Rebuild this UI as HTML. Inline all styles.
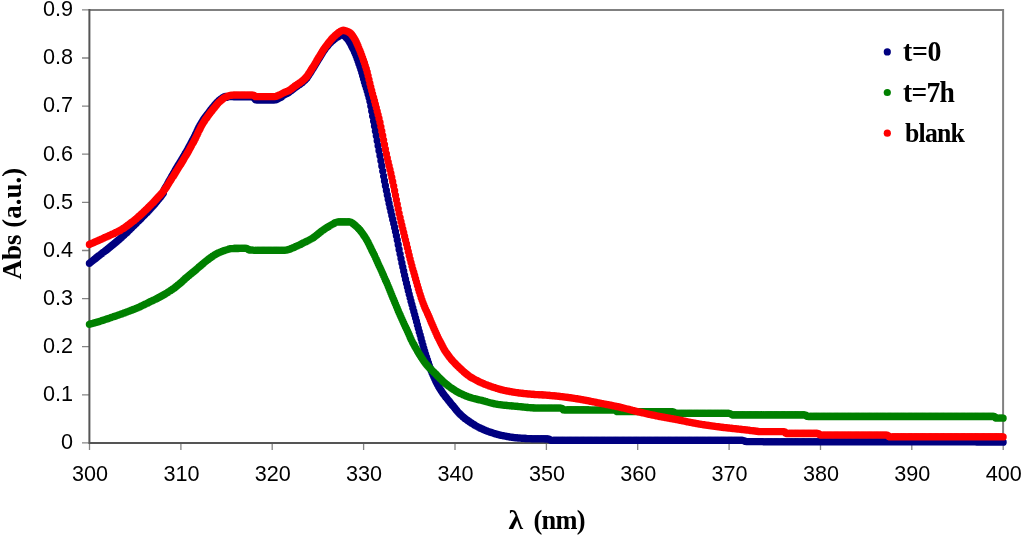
<!DOCTYPE html>
<html><head><meta charset="utf-8"><title>Abs vs wavelength</title>
<style>
html,body{margin:0;padding:0;background:#fff}
svg{display:block}
.tk{font-family:"Liberation Sans",sans-serif;font-size:22.5px;fill:#000}
.ti{font-family:"Liberation Serif",serif;font-weight:bold;font-size:30px;fill:#000}
</style></head><body>
<svg width="1024" height="537" viewBox="0 0 1024 537">
<rect width="1024" height="537" fill="#fff"/>
<path d="M89.4 10H1003.1V443" fill="none" stroke="#808080" stroke-width="2"/>
<path d="M82 442.9H89M82 394.8H89M82 346.7H89M82 298.6H89M82 250.5H89M82 202.3H89M82 154.2H89M82 106.1H89M82 58.0H89M82 9.9H89M89.5 443V450M180.9 443V450M272.2 443V450M363.6 443V450M455.0 443V450M546.4 443V450M637.7 443V450M729.1 443V450M820.5 443V450M911.8 443V450M1003.2 443V450" fill="none" stroke="#858585" stroke-width="1.3"/>
<path d="M89.4 9V443H1003.1" fill="none" stroke="#555" stroke-width="2"/>
<path d="M89.4 263.3h.01M90.3 262.6h.01M91.2 261.8h.01M92.1 261.1h.01M93.1 260.3h.01M94.0 259.6h.01M94.9 258.9h.01M95.8 258.2h.01M96.7 257.4h.01M97.6 256.7h.01M98.5 256.0h.01M99.5 255.3h.01M100.4 254.6h.01M101.3 253.9h.01M102.2 253.2h.01M103.1 252.5h.01M104.0 251.8h.01M104.9 251.1h.01M105.8 250.4h.01M106.8 249.7h.01M107.7 248.9h.01M108.6 248.2h.01M109.5 247.5h.01M110.4 246.7h.01M111.3 246.0h.01M112.2 245.2h.01M113.2 244.5h.01M114.1 243.7h.01M115.0 243.0h.01M115.9 242.2h.01M116.8 241.4h.01M117.7 240.6h.01M118.6 239.9h.01M119.6 239.1h.01M120.5 238.3h.01M121.4 237.4h.01M122.3 236.6h.01M123.2 235.8h.01M124.1 235.0h.01M125.0 234.1h.01M125.9 233.3h.01M126.9 232.4h.01M127.8 231.5h.01M128.7 230.6h.01M129.6 229.7h.01M130.5 228.8h.01M131.4 227.9h.01M132.3 227.0h.01M133.3 226.1h.01M134.2 225.2h.01M135.1 224.3h.01M136.0 223.4h.01M136.9 222.5h.01M137.8 221.6h.01M138.7 220.7h.01M139.7 219.8h.01M140.6 218.9h.01M141.5 218.0h.01M142.4 217.0h.01M143.3 216.1h.01M144.2 215.2h.01M145.1 214.3h.01M146.0 213.3h.01M147.0 212.4h.01M147.9 211.4h.01M148.8 210.4h.01M149.7 209.5h.01M150.6 208.5h.01M151.5 207.5h.01M152.4 206.5h.01M153.4 205.5h.01M154.3 204.4h.01M155.2 203.4h.01M156.1 202.3h.01M157.0 201.2h.01M157.9 200.1h.01M158.8 199.0h.01M159.8 197.8h.01M160.7 196.7h.01M161.6 195.4h.01M162.5 194.2h.01M163.4 193.0h.01M164.3 189.6h.01M165.2 188.0h.01M166.2 186.5h.01M167.1 184.8h.01M168.0 183.2h.01M168.9 181.5h.01M169.8 179.9h.01M170.7 178.3h.01M171.6 176.7h.01M172.5 175.1h.01M173.5 173.4h.01M174.4 171.8h.01M175.3 170.2h.01M176.2 168.6h.01M177.1 167.2h.01M178.0 165.7h.01M178.9 164.2h.01M179.9 162.7h.01M180.8 161.2h.01M181.7 159.7h.01M182.6 158.2h.01M183.5 156.7h.01M184.4 155.1h.01M185.3 153.5h.01M186.3 151.9h.01M187.2 150.3h.01M188.1 148.7h.01M189.0 147.0h.01M189.9 145.4h.01M190.8 143.7h.01M191.7 142.0h.01M192.6 140.2h.01M193.6 138.5h.01M194.5 136.7h.01M195.4 134.7h.01M196.3 132.8h.01M197.2 130.8h.01M198.1 128.9h.01M199.0 127.1h.01M200.0 125.4h.01M200.9 123.8h.01M201.8 122.3h.01M202.7 120.9h.01M203.6 119.5h.01M204.5 118.2h.01M205.4 116.9h.01M206.4 115.7h.01M207.3 114.5h.01M208.2 113.3h.01M209.1 112.1h.01M210.0 110.9h.01M210.9 109.7h.01M211.8 108.6h.01M212.7 107.4h.01M213.7 106.3h.01M214.6 105.2h.01M215.5 104.1h.01M216.4 103.1h.01M217.3 102.2h.01M218.2 101.3h.01M219.1 100.5h.01M220.1 99.7h.01M221.0 99.0h.01M221.9 98.3h.01M222.8 97.7h.01M223.7 97.1h.01M224.6 96.7h.01M225.5 96.3h.01M226.5 97.4h.01M227.4 97.1h.01M228.3 96.8h.01M229.2 96.6h.01M230.1 96.5h.01M231.0 96.5h.01M231.9 96.6h.01M232.9 96.7h.01M233.8 96.8h.01M234.7 96.9h.01M235.6 96.9h.01M236.5 96.9h.01M237.4 96.9h.01M238.3 96.9h.01M239.2 96.9h.01M240.2 96.9h.01M241.1 96.9h.01M242.0 96.9h.01M242.9 96.9h.01M243.8 96.9h.01M244.7 96.9h.01M245.6 96.9h.01M246.6 96.9h.01M247.5 96.9h.01M248.4 96.9h.01M249.3 96.9h.01M250.2 96.9h.01M251.1 96.9h.01M252.0 96.9h.01M253.0 96.9h.01M253.9 97.7h.01M254.8 98.8h.01M255.7 99.8h.01M256.6 100.0h.01M257.5 100.0h.01M258.4 100.0h.01M259.3 100.0h.01M260.3 100.0h.01M261.2 100.0h.01M262.1 100.0h.01M263.0 100.0h.01M263.9 100.0h.01M264.8 100.0h.01M265.7 100.0h.01M266.7 100.0h.01M267.6 100.0h.01M268.5 100.0h.01M269.4 100.0h.01M270.3 100.0h.01M271.2 100.0h.01M272.1 100.0h.01M273.1 100.0h.01M274.0 100.0h.01M274.9 99.9h.01M275.8 99.7h.01M276.7 99.4h.01M277.6 99.0h.01M278.5 98.6h.01M279.4 98.0h.01M280.4 97.5h.01M281.3 96.9h.01M282.2 96.2h.01M283.1 95.6h.01M284.0 95.0h.01M284.9 94.5h.01M285.8 94.0h.01M286.8 93.5h.01M287.7 92.9h.01M288.6 92.4h.01M289.5 91.8h.01M290.4 91.1h.01M291.3 90.4h.01M292.2 89.7h.01M293.2 89.0h.01M294.1 88.3h.01M295.0 87.5h.01M295.9 86.9h.01M296.8 86.3h.01M297.7 85.7h.01M298.6 85.1h.01M299.6 84.5h.01M300.5 83.8h.01M301.4 83.1h.01M302.3 82.4h.01M303.2 81.6h.01M304.1 80.8h.01M305.0 79.9h.01M305.9 79.0h.01M306.9 77.9h.01M307.8 76.6h.01M308.7 75.2h.01M309.6 73.8h.01M310.5 72.4h.01M311.4 71.0h.01M312.3 69.5h.01M313.3 68.1h.01M314.2 66.6h.01M315.1 65.1h.01M316.0 63.6h.01M316.9 62.0h.01M317.8 60.5h.01M318.7 59.0h.01M319.7 57.5h.01M320.6 56.0h.01M321.5 54.4h.01M322.4 53.0h.01M323.3 51.5h.01M324.2 50.2h.01M325.1 48.9h.01M326.0 47.6h.01M327.0 46.5h.01M327.9 45.4h.01M328.8 44.3h.01M329.7 43.3h.01M330.6 42.4h.01M331.5 41.5h.01M332.4 40.7h.01M333.4 39.9h.01M334.3 39.1h.01M335.2 38.4h.01M336.1 37.8h.01M337.0 37.3h.01M337.9 36.7h.01M338.8 36.2h.01M339.8 35.6h.01M340.7 35.1h.01M341.6 34.8h.01M342.5 34.5h.01M343.4 35.0h.01M344.3 35.7h.01M345.2 36.5h.01M346.1 37.4h.01M347.1 38.4h.01M348.0 39.5h.01M348.9 40.9h.01M349.8 42.4h.01M350.7 44.1h.01M351.6 45.9h.01M352.5 47.7h.01M353.5 49.6h.01M354.4 51.7h.01M355.3 53.8h.01M356.2 56.1h.01M357.1 58.5h.01M358.0 61.1h.01M358.9 63.7h.01M359.9 66.4h.01M360.8 69.3h.01M361.7 72.3h.01M362.6 75.5h.01M363.5 78.7h.01M364.4 82.0h.01M365.3 85.1h.01M366.3 88.1h.01M367.2 91.1h.01M368.1 94.2h.01M369.0 97.5h.01M369.9 101.3h.01M370.8 105.9h.01M371.7 110.9h.01M372.6 116.0h.01M373.6 121.0h.01M374.5 125.9h.01M375.4 130.9h.01M376.3 135.8h.01M377.2 140.8h.01M378.1 145.8h.01M379.0 150.7h.01M380.0 155.7h.01M380.9 160.8h.01M381.8 165.9h.01M382.7 171.1h.01M383.6 176.1h.01M384.5 181.0h.01M385.4 185.7h.01M386.4 190.4h.01M387.3 194.9h.01M388.2 199.3h.01M389.1 203.5h.01M390.0 207.6h.01M390.9 211.5h.01M391.8 215.4h.01M392.7 219.4h.01M393.7 223.4h.01M394.6 227.5h.01M395.5 231.6h.01M396.4 235.8h.01M397.3 240.1h.01M398.2 244.7h.01M399.1 249.4h.01M400.1 254.1h.01M401.0 258.6h.01M401.9 262.9h.01M402.8 267.1h.01M403.7 271.2h.01M404.6 275.3h.01M405.5 279.2h.01M406.5 283.2h.01M407.4 287.0h.01M408.3 290.7h.01M409.2 294.3h.01M410.1 297.8h.01M411.0 301.2h.01M411.9 304.6h.01M412.8 308.0h.01M413.8 311.4h.01M414.7 314.8h.01M415.6 318.1h.01M416.5 321.5h.01M417.4 324.9h.01M418.3 328.3h.01M419.2 331.7h.01M420.2 335.1h.01M421.1 338.4h.01M422.0 341.8h.01M422.9 345.1h.01M423.8 348.3h.01M424.7 351.4h.01M425.6 354.4h.01M426.6 357.4h.01M427.5 360.2h.01M428.4 362.9h.01M429.3 365.6h.01M430.2 368.1h.01M431.1 370.5h.01M432.0 372.8h.01M433.0 375.0h.01M433.9 377.1h.01M434.8 379.1h.01M435.7 381.0h.01M436.6 382.8h.01M437.5 384.5h.01M438.4 386.2h.01M439.3 387.7h.01M440.3 389.3h.01M441.2 390.7h.01M442.1 392.1h.01M443.0 393.4h.01M443.9 394.6h.01M444.8 395.8h.01M445.7 397.0h.01M446.7 398.1h.01M447.6 399.3h.01M448.5 400.4h.01M449.4 401.5h.01M450.3 402.7h.01M451.2 403.8h.01M452.1 404.9h.01M453.1 406.0h.01M454.0 407.1h.01M454.9 408.2h.01M455.8 409.4h.01M456.7 410.5h.01M457.6 411.6h.01M458.5 412.6h.01M459.4 413.5h.01M460.4 414.4h.01M461.3 415.3h.01M462.2 416.1h.01M463.1 416.9h.01M464.0 417.6h.01M464.9 418.4h.01M465.8 419.1h.01M466.8 419.8h.01M467.7 420.4h.01M468.6 421.1h.01M469.5 421.7h.01M470.4 422.3h.01M471.3 423.0h.01M472.2 423.6h.01M473.2 424.1h.01M474.1 424.7h.01M475.0 425.3h.01M475.9 425.8h.01M476.8 426.3h.01M477.7 426.8h.01M478.6 427.3h.01M479.5 427.7h.01M480.5 428.2h.01M481.4 428.6h.01M482.3 429.0h.01M483.2 429.4h.01M484.1 429.8h.01M485.0 430.2h.01M485.9 430.6h.01M486.9 430.9h.01M487.8 431.3h.01M488.7 431.6h.01M489.6 431.9h.01M490.5 432.2h.01M491.4 432.5h.01M492.3 432.8h.01M493.3 433.1h.01M494.2 433.4h.01M495.1 433.7h.01M496.0 434.0h.01M496.9 434.2h.01M497.8 434.5h.01M498.7 434.7h.01M499.7 434.9h.01M500.6 435.2h.01M501.5 435.4h.01M502.4 435.6h.01M503.3 435.7h.01M504.2 435.9h.01M505.1 436.1h.01M506.0 436.3h.01M507.0 436.5h.01M507.9 436.6h.01M508.8 436.8h.01M509.7 437.0h.01M510.6 437.1h.01M511.5 437.3h.01M512.4 437.4h.01M513.4 437.5h.01M514.3 437.7h.01M515.2 437.8h.01M516.1 437.9h.01M517.0 437.9h.01M517.9 438.0h.01M518.8 438.1h.01M519.8 438.1h.01M520.7 438.2h.01M521.6 438.3h.01M522.5 438.3h.01M523.4 438.4h.01M524.3 438.4h.01M525.2 438.5h.01M526.1 438.5h.01M527.1 438.6h.01M528.0 438.6h.01M528.9 438.7h.01M529.8 438.7h.01M530.7 438.7h.01M531.6 438.8h.01M532.5 438.8h.01M533.5 438.8h.01M534.4 438.8h.01M535.3 438.9h.01M536.2 438.9h.01M537.1 438.9h.01M538.0 438.9h.01M538.9 438.9h.01M539.9 438.9h.01M540.8 438.9h.01M541.7 438.9h.01M542.6 438.9h.01M543.5 438.9h.01M544.4 438.9h.01M545.3 439.0h.01M546.2 439.0h.01M547.2 439.0h.01M548.1 439.0h.01M549.0 439.1h.01M549.9 439.8h.01M550.8 440.3h.01M551.7 440.3h.01M552.6 440.3h.01M553.6 440.3h.01M554.5 440.3h.01M555.4 440.3h.01M556.3 440.3h.01M557.2 440.3h.01M558.1 440.3h.01M559.0 440.3h.01M560.0 440.3h.01M560.9 440.3h.01M561.8 440.3h.01M562.7 440.3h.01M563.6 440.3h.01M564.5 440.3h.01M565.4 440.3h.01M566.4 440.3h.01M567.3 440.3h.01M568.2 440.3h.01M569.1 440.3h.01M570.0 440.3h.01M570.9 440.3h.01M571.8 440.3h.01M572.7 440.3h.01M573.7 440.3h.01M574.6 440.3h.01M575.5 440.3h.01M576.4 440.3h.01M577.3 440.3h.01M578.2 440.3h.01M579.1 440.3h.01M580.1 440.3h.01M581.0 440.3h.01M581.9 440.3h.01M582.8 440.3h.01M583.7 440.3h.01M584.6 440.3h.01M585.5 440.3h.01M586.5 440.3h.01M587.4 440.3h.01M588.3 440.3h.01M589.2 440.3h.01M590.1 440.3h.01M591.0 440.3h.01M591.9 440.3h.01M592.8 440.3h.01M593.8 440.3h.01M594.7 440.3h.01M595.6 440.3h.01M596.5 440.3h.01M597.4 440.3h.01M598.3 440.3h.01M599.2 440.3h.01M600.2 440.3h.01M601.1 440.3h.01M602.0 440.3h.01M602.9 440.3h.01M603.8 440.3h.01M604.7 440.3h.01M605.6 440.3h.01M606.6 440.3h.01M607.5 440.3h.01M608.4 440.3h.01M609.3 440.3h.01M610.2 440.3h.01M611.1 440.3h.01M612.0 440.3h.01M613.0 440.3h.01M613.9 440.3h.01M614.8 440.3h.01M615.7 440.3h.01M616.6 440.3h.01M617.5 440.3h.01M618.4 440.3h.01M619.3 440.3h.01M620.3 440.3h.01M621.2 440.3h.01M622.1 440.3h.01M623.0 440.3h.01M623.9 440.3h.01M624.8 440.3h.01M625.7 440.3h.01M626.7 440.3h.01M627.6 440.3h.01M628.5 440.3h.01M629.4 440.3h.01M630.3 440.3h.01M631.2 440.3h.01M632.1 440.3h.01M633.1 440.3h.01M634.0 440.3h.01M634.9 440.3h.01M635.8 440.3h.01M636.7 440.3h.01M637.6 440.3h.01M638.5 440.3h.01M639.4 440.3h.01M640.4 440.3h.01M641.3 440.3h.01M642.2 440.3h.01M643.1 440.3h.01M644.0 440.3h.01M644.9 440.3h.01M645.8 440.3h.01M646.8 440.3h.01M647.7 440.3h.01M648.6 440.3h.01M649.5 440.3h.01M650.4 440.3h.01M651.3 440.3h.01M652.2 440.3h.01M653.2 440.3h.01M654.1 440.3h.01M655.0 440.3h.01M655.9 440.3h.01M656.8 440.3h.01M657.7 440.3h.01M658.6 440.3h.01M659.5 440.3h.01M660.5 440.3h.01M661.4 440.3h.01M662.3 440.3h.01M663.2 440.3h.01M664.1 440.3h.01M665.0 440.3h.01M665.9 440.3h.01M666.9 440.3h.01M667.8 440.3h.01M668.7 440.3h.01M669.6 440.3h.01M670.5 440.3h.01M671.4 440.3h.01M672.3 440.3h.01M673.3 440.3h.01M674.2 440.3h.01M675.1 440.3h.01M676.0 440.3h.01M676.9 440.3h.01M677.8 440.3h.01M678.7 440.3h.01M679.7 440.3h.01M680.6 440.3h.01M681.5 440.3h.01M682.4 440.3h.01M683.3 440.3h.01M684.2 440.3h.01M685.1 440.3h.01M686.0 440.3h.01M687.0 440.3h.01M687.9 440.3h.01M688.8 440.3h.01M689.7 440.3h.01M690.6 440.3h.01M691.5 440.3h.01M692.4 440.3h.01M693.4 440.3h.01M694.3 440.3h.01M695.2 440.3h.01M696.1 440.3h.01M697.0 440.3h.01M697.9 440.3h.01M698.8 440.3h.01M699.8 440.3h.01M700.7 440.3h.01M701.6 440.3h.01M702.5 440.3h.01M703.4 440.3h.01M704.3 440.3h.01M705.2 440.3h.01M706.1 440.3h.01M707.1 440.3h.01M708.0 440.3h.01M708.9 440.3h.01M709.8 440.3h.01M710.7 440.3h.01M711.6 440.3h.01M712.5 440.3h.01M713.5 440.3h.01M714.4 440.3h.01M715.3 440.3h.01M716.2 440.3h.01M717.1 440.3h.01M718.0 440.3h.01M718.9 440.3h.01M719.9 440.3h.01M720.8 440.3h.01M721.7 440.3h.01M722.6 440.3h.01M723.5 440.3h.01M724.4 440.3h.01M725.3 440.3h.01M726.2 440.3h.01M727.2 440.3h.01M728.1 440.3h.01M729.0 440.3h.01M729.9 440.3h.01M730.8 440.3h.01M731.7 440.3h.01M732.6 440.3h.01M733.6 440.3h.01M734.5 440.3h.01M735.4 440.3h.01M736.3 440.3h.01M737.2 440.3h.01M738.1 440.3h.01M739.0 440.3h.01M740.0 440.3h.01M740.9 440.3h.01M741.8 440.3h.01M742.7 440.4h.01M743.6 440.6h.01M744.5 441.0h.01M745.4 441.4h.01M746.4 441.6h.01M747.3 441.7h.01M748.2 441.7h.01M749.1 441.7h.01M750.0 441.7h.01M750.9 441.7h.01M751.8 441.7h.01M752.7 441.7h.01M753.7 441.7h.01M754.6 441.7h.01M755.5 441.7h.01M756.4 441.7h.01M757.3 441.7h.01M758.2 441.7h.01M759.1 441.7h.01M760.1 441.7h.01M761.0 441.7h.01M761.9 441.7h.01M762.8 441.7h.01M763.7 441.8h.01M764.6 441.8h.01M765.5 441.8h.01M766.5 441.8h.01M767.4 441.8h.01M768.3 441.8h.01M769.2 441.8h.01M770.1 441.8h.01M771.0 441.8h.01M771.9 441.8h.01M772.8 441.8h.01M773.8 441.8h.01M774.7 441.8h.01M775.6 441.8h.01M776.5 441.8h.01M777.4 441.8h.01M778.3 441.8h.01M779.2 441.8h.01M780.2 441.8h.01M781.1 441.8h.01M782.0 441.8h.01M782.9 441.8h.01M783.8 441.8h.01M784.7 441.8h.01M785.6 441.8h.01M786.6 441.8h.01M787.5 441.8h.01M788.4 441.8h.01M789.3 441.8h.01M790.2 441.8h.01M791.1 441.8h.01M792.0 441.8h.01M792.9 441.8h.01M793.9 441.8h.01M794.8 441.8h.01M795.7 441.8h.01M796.6 441.8h.01M797.5 441.8h.01M798.4 441.8h.01M799.3 441.8h.01M800.3 441.8h.01M801.2 441.8h.01M802.1 441.8h.01M803.0 441.8h.01M803.9 441.8h.01M804.8 441.8h.01M805.7 441.8h.01M806.7 441.8h.01M807.6 441.8h.01M808.5 441.8h.01M809.4 441.8h.01M810.3 441.8h.01M811.2 441.8h.01M812.1 441.8h.01M813.1 441.8h.01M814.0 441.8h.01M814.9 441.8h.01M815.8 441.8h.01M816.7 441.8h.01M817.6 441.8h.01M818.5 441.8h.01M819.4 441.8h.01M820.4 441.8h.01M821.3 441.8h.01M822.2 441.8h.01M823.1 441.8h.01M824.0 441.8h.01M824.9 441.8h.01M825.8 441.8h.01M826.8 441.8h.01M827.7 441.8h.01M828.6 441.8h.01M829.5 441.8h.01M830.4 441.8h.01M831.3 441.9h.01M832.2 441.9h.01M833.2 441.9h.01M834.1 441.9h.01M835.0 441.9h.01M835.9 441.9h.01M836.8 441.9h.01M837.7 441.9h.01M838.6 441.9h.01M839.5 441.9h.01M840.5 441.9h.01M841.4 441.9h.01M842.3 441.9h.01M843.2 441.9h.01M844.1 441.9h.01M845.0 441.9h.01M845.9 441.9h.01M846.9 441.9h.01M847.8 441.9h.01M848.7 441.9h.01M849.6 441.9h.01M850.5 441.9h.01M851.4 441.9h.01M852.3 441.9h.01M853.3 441.9h.01M854.2 441.9h.01M855.1 441.9h.01M856.0 441.9h.01M856.9 441.9h.01M857.8 441.9h.01M858.7 441.9h.01M859.6 441.9h.01M860.6 441.9h.01M861.5 441.9h.01M862.4 441.9h.01M863.3 441.9h.01M864.2 441.9h.01M865.1 441.9h.01M866.0 441.9h.01M867.0 441.9h.01M867.9 441.9h.01M868.8 441.9h.01M869.7 441.9h.01M870.6 441.9h.01M871.5 441.9h.01M872.4 441.9h.01M873.4 441.9h.01M874.3 441.9h.01M875.2 441.9h.01M876.1 441.9h.01M877.0 441.9h.01M877.9 441.9h.01M878.8 441.9h.01M879.8 441.9h.01M880.7 441.9h.01M881.6 441.9h.01M882.5 441.9h.01M883.4 441.9h.01M884.3 441.9h.01M885.2 441.9h.01M886.1 441.9h.01M887.1 441.9h.01M888.0 441.9h.01M888.9 441.9h.01M889.8 441.9h.01M890.7 441.9h.01M891.6 441.9h.01M892.5 441.9h.01M893.5 441.9h.01M894.4 441.9h.01M895.3 441.9h.01M896.2 441.9h.01M897.1 441.9h.01M898.0 441.9h.01M898.9 441.9h.01M899.9 441.9h.01M900.8 441.9h.01M901.7 441.9h.01M902.6 441.9h.01M903.5 441.9h.01M904.4 441.9h.01M905.3 441.9h.01M906.2 441.9h.01M907.2 441.9h.01M908.1 441.9h.01M909.0 441.9h.01M909.9 441.9h.01M910.8 441.9h.01M911.7 441.9h.01M912.6 441.9h.01M913.6 441.9h.01M914.5 441.9h.01M915.4 441.9h.01M916.3 441.9h.01M917.2 441.9h.01M918.1 441.9h.01M919.0 441.9h.01M920.0 441.9h.01M920.9 441.9h.01M921.8 441.9h.01M922.7 441.9h.01M923.6 441.9h.01M924.5 441.9h.01M925.4 441.9h.01M926.3 441.9h.01M927.3 441.9h.01M928.2 441.9h.01M929.1 441.9h.01M930.0 441.9h.01M930.9 441.9h.01M931.8 441.9h.01M932.7 441.9h.01M933.7 441.9h.01M934.6 441.9h.01M935.5 441.9h.01M936.4 441.9h.01M937.3 441.9h.01M938.2 441.9h.01M939.1 441.9h.01M940.1 441.9h.01M941.0 441.9h.01M941.9 441.9h.01M942.8 441.9h.01M943.7 441.9h.01M944.6 441.9h.01M945.5 441.9h.01M946.5 441.9h.01M947.4 441.9h.01M948.3 441.9h.01M949.2 441.9h.01M950.1 441.9h.01M951.0 441.9h.01M951.9 441.9h.01M952.8 441.9h.01M953.8 441.9h.01M954.7 441.9h.01M955.6 441.9h.01M956.5 441.9h.01M957.4 441.9h.01M958.3 441.9h.01M959.2 441.9h.01M960.2 441.9h.01M961.1 441.9h.01M962.0 441.9h.01M962.9 441.9h.01M963.8 441.9h.01M964.7 441.9h.01M965.6 441.9h.01M966.6 441.9h.01M967.5 441.9h.01M968.4 441.9h.01M969.3 441.9h.01M970.2 441.9h.01M971.1 441.9h.01M972.0 441.9h.01M972.9 441.9h.01M973.9 441.9h.01M974.8 441.9h.01M975.7 441.9h.01M976.6 442.0h.01M977.5 442.0h.01M978.4 442.0h.01M979.3 442.0h.01M980.3 442.0h.01M981.2 442.0h.01M982.1 442.0h.01M983.0 442.0h.01M983.9 442.0h.01M984.8 442.0h.01M985.7 442.0h.01M986.7 442.0h.01M987.6 442.0h.01M988.5 442.0h.01M989.4 442.0h.01M990.3 442.0h.01M991.2 442.0h.01M992.1 442.0h.01M993.0 442.0h.01M994.0 442.0h.01M994.9 442.0h.01M995.8 442.0h.01M996.7 442.0h.01M997.6 442.1h.01M998.5 442.1h.01M999.4 442.1h.01M1000.4 442.1h.01M1001.3 442.2h.01M1002.2 442.2h.01M1003.1 442.2h.01" fill="none" stroke="#000080" stroke-width="7.3" stroke-linecap="round"/>
<path d="M89.4 324.3h.01M90.3 324.0h.01M91.2 323.8h.01M92.1 323.5h.01M93.1 323.3h.01M94.0 323.0h.01M94.9 322.7h.01M95.8 322.5h.01M96.7 322.2h.01M97.6 321.9h.01M98.5 321.7h.01M99.5 321.4h.01M100.4 321.1h.01M101.3 320.8h.01M102.2 320.5h.01M103.1 320.2h.01M104.0 319.9h.01M104.9 319.6h.01M105.8 319.3h.01M106.8 319.0h.01M107.7 318.7h.01M108.6 318.4h.01M109.5 318.1h.01M110.4 317.8h.01M111.3 317.5h.01M112.2 317.1h.01M113.2 316.8h.01M114.1 316.5h.01M115.0 316.2h.01M115.9 315.9h.01M116.8 315.6h.01M117.7 315.3h.01M118.6 315.0h.01M119.6 314.6h.01M120.5 314.3h.01M121.4 314.0h.01M122.3 313.7h.01M123.2 313.3h.01M124.1 313.0h.01M125.0 312.7h.01M125.9 312.3h.01M126.9 312.0h.01M127.8 311.6h.01M128.7 311.3h.01M129.6 311.0h.01M130.5 310.6h.01M131.4 310.2h.01M132.3 309.9h.01M133.3 309.5h.01M134.2 309.2h.01M135.1 308.8h.01M136.0 308.4h.01M136.9 308.1h.01M137.8 307.7h.01M138.7 307.3h.01M139.7 306.9h.01M140.6 306.5h.01M141.5 306.0h.01M142.4 305.6h.01M143.3 305.1h.01M144.2 304.7h.01M145.1 304.2h.01M146.0 303.8h.01M147.0 303.3h.01M147.9 302.9h.01M148.8 302.4h.01M149.7 302.0h.01M150.6 301.5h.01M151.5 301.1h.01M152.4 300.7h.01M153.4 300.2h.01M154.3 299.8h.01M155.2 299.3h.01M156.1 298.9h.01M157.0 298.4h.01M157.9 297.9h.01M158.8 297.4h.01M159.8 296.9h.01M160.7 296.4h.01M161.6 295.9h.01M162.5 295.4h.01M163.4 294.9h.01M164.3 294.4h.01M165.2 293.9h.01M166.2 293.3h.01M167.1 292.8h.01M168.0 292.2h.01M168.9 291.6h.01M169.8 291.1h.01M170.7 290.5h.01M171.6 289.8h.01M172.5 289.2h.01M173.5 288.6h.01M174.4 287.9h.01M175.3 287.2h.01M176.2 286.5h.01M177.1 285.8h.01M178.0 285.0h.01M178.9 284.3h.01M179.9 283.5h.01M180.8 282.7h.01M181.7 281.9h.01M182.6 281.1h.01M183.5 280.2h.01M184.4 279.4h.01M185.3 278.5h.01M186.3 277.7h.01M187.2 276.9h.01M188.1 276.1h.01M189.0 275.4h.01M189.9 274.6h.01M190.8 273.9h.01M191.7 273.2h.01M192.6 272.5h.01M193.6 271.7h.01M194.5 271.0h.01M195.4 270.2h.01M196.3 269.4h.01M197.2 268.6h.01M198.1 267.8h.01M199.0 267.0h.01M200.0 266.2h.01M200.9 265.4h.01M201.8 264.6h.01M202.7 263.9h.01M203.6 263.1h.01M204.5 262.3h.01M205.4 261.6h.01M206.4 260.8h.01M207.3 260.1h.01M208.2 259.4h.01M209.1 258.7h.01M210.0 258.1h.01M210.9 257.4h.01M211.8 256.8h.01M212.7 256.2h.01M213.7 255.6h.01M214.6 255.0h.01M215.5 254.5h.01M216.4 254.0h.01M217.3 253.5h.01M218.2 253.0h.01M219.1 252.6h.01M220.1 252.2h.01M221.0 251.8h.01M221.9 251.4h.01M222.8 251.1h.01M223.7 250.7h.01M224.6 250.4h.01M225.5 250.1h.01M226.5 249.8h.01M227.4 249.6h.01M228.3 249.3h.01M229.2 249.0h.01M230.1 248.8h.01M231.0 248.7h.01M231.9 248.6h.01M232.9 248.6h.01M233.8 248.5h.01M234.7 248.5h.01M235.6 248.5h.01M236.5 248.5h.01M237.4 248.5h.01M238.3 248.5h.01M239.2 248.4h.01M240.2 248.4h.01M241.1 248.4h.01M242.0 248.4h.01M242.9 248.4h.01M243.8 248.4h.01M244.7 248.4h.01M245.6 248.4h.01M246.6 248.4h.01M247.5 248.8h.01M248.4 249.5h.01M249.3 250.0h.01M250.2 250.2h.01M251.1 250.2h.01M252.0 250.2h.01M253.0 250.2h.01M253.9 250.3h.01M254.8 250.3h.01M255.7 250.3h.01M256.6 250.3h.01M257.5 250.3h.01M258.4 250.3h.01M259.3 250.3h.01M260.3 250.3h.01M261.2 250.3h.01M262.1 250.3h.01M263.0 250.3h.01M263.9 250.3h.01M264.8 250.4h.01M265.7 250.4h.01M266.7 250.4h.01M267.6 250.4h.01M268.5 250.4h.01M269.4 250.4h.01M270.3 250.4h.01M271.2 250.4h.01M272.1 250.4h.01M273.1 250.4h.01M274.0 250.4h.01M274.9 250.4h.01M275.8 250.4h.01M276.7 250.4h.01M277.6 250.4h.01M278.5 250.4h.01M279.4 250.4h.01M280.4 250.4h.01M281.3 250.4h.01M282.2 250.4h.01M283.1 250.4h.01M284.0 250.4h.01M284.9 250.3h.01M285.8 250.2h.01M286.8 250.0h.01M287.7 249.7h.01M288.6 249.5h.01M289.5 249.2h.01M290.4 248.9h.01M291.3 248.5h.01M292.2 248.1h.01M293.2 247.7h.01M294.1 247.4h.01M295.0 247.0h.01M295.9 246.5h.01M296.8 246.1h.01M297.7 245.7h.01M298.6 245.3h.01M299.6 244.8h.01M300.5 244.4h.01M301.4 243.9h.01M302.3 243.5h.01M303.2 243.0h.01M304.1 242.6h.01M305.0 242.1h.01M305.9 241.7h.01M306.9 241.2h.01M307.8 240.8h.01M308.7 240.3h.01M309.6 239.8h.01M310.5 239.3h.01M311.4 238.8h.01M312.3 238.3h.01M313.3 237.7h.01M314.2 237.0h.01M315.1 236.3h.01M316.0 235.6h.01M316.9 234.9h.01M317.8 234.1h.01M318.7 233.4h.01M319.7 232.6h.01M320.6 231.9h.01M321.5 231.2h.01M322.4 230.6h.01M323.3 230.0h.01M324.2 229.3h.01M325.1 228.7h.01M326.0 228.1h.01M327.0 227.5h.01M327.9 226.9h.01M328.8 226.4h.01M329.7 225.8h.01M330.6 225.3h.01M331.5 224.8h.01M332.4 224.3h.01M333.4 223.8h.01M334.3 223.2h.01M335.2 222.7h.01M336.1 222.3h.01M337.0 222.1h.01M337.9 222.0h.01M338.8 222.0h.01M339.8 222.0h.01M340.7 222.0h.01M341.6 222.0h.01M342.5 222.0h.01M343.4 222.0h.01M344.3 222.0h.01M345.2 222.0h.01M346.1 222.0h.01M347.1 222.0h.01M348.0 222.0h.01M348.9 222.0h.01M349.8 222.0h.01M350.7 222.2h.01M351.6 222.6h.01M352.5 223.2h.01M353.5 223.9h.01M354.4 224.7h.01M355.3 225.5h.01M356.2 226.3h.01M357.1 227.1h.01M358.0 228.0h.01M358.9 229.0h.01M359.9 230.0h.01M360.8 231.2h.01M361.7 232.3h.01M362.6 233.6h.01M363.5 234.9h.01M364.4 236.2h.01M365.3 237.6h.01M366.3 239.2h.01M367.2 240.8h.01M368.1 242.5h.01M369.0 244.3h.01M369.9 246.2h.01M370.8 248.0h.01M371.7 249.9h.01M372.6 251.7h.01M373.6 253.6h.01M374.5 255.5h.01M375.4 257.5h.01M376.3 259.5h.01M377.2 261.5h.01M378.1 263.6h.01M379.0 265.6h.01M380.0 267.6h.01M380.9 269.6h.01M381.8 271.6h.01M382.7 273.7h.01M383.6 275.7h.01M384.5 277.8h.01M385.4 279.9h.01M386.4 282.0h.01M387.3 284.1h.01M388.2 286.3h.01M389.1 288.5h.01M390.0 290.7h.01M390.9 293.0h.01M391.8 295.2h.01M392.7 297.5h.01M393.7 299.7h.01M394.6 301.9h.01M395.5 304.1h.01M396.4 306.3h.01M397.3 308.5h.01M398.2 310.7h.01M399.1 312.8h.01M400.1 315.0h.01M401.0 317.1h.01M401.9 319.1h.01M402.8 321.1h.01M403.7 323.1h.01M404.6 325.1h.01M405.5 327.0h.01M406.5 329.0h.01M407.4 330.9h.01M408.3 332.9h.01M409.2 335.0h.01M410.1 337.2h.01M411.0 339.2h.01M411.9 341.1h.01M412.8 342.8h.01M413.8 344.5h.01M414.7 346.2h.01M415.6 347.8h.01M416.5 349.3h.01M417.4 350.9h.01M418.3 352.4h.01M419.2 353.9h.01M420.2 355.4h.01M421.1 356.9h.01M422.0 358.3h.01M422.9 359.7h.01M423.8 361.1h.01M424.7 362.3h.01M425.6 363.6h.01M426.6 364.7h.01M427.5 365.7h.01M428.4 366.7h.01M429.3 367.7h.01M430.2 368.6h.01M431.1 369.5h.01M432.0 370.4h.01M433.0 371.3h.01M433.9 372.2h.01M434.8 373.1h.01M435.7 374.0h.01M436.6 374.9h.01M437.5 375.9h.01M438.4 376.8h.01M439.3 377.8h.01M440.3 378.7h.01M441.2 379.6h.01M442.1 380.5h.01M443.0 381.4h.01M443.9 382.2h.01M444.8 383.0h.01M445.7 383.8h.01M446.7 384.5h.01M447.6 385.2h.01M448.5 385.9h.01M449.4 386.6h.01M450.3 387.3h.01M451.2 387.9h.01M452.1 388.5h.01M453.1 389.2h.01M454.0 389.7h.01M454.9 390.3h.01M455.8 390.9h.01M456.7 391.4h.01M457.6 391.9h.01M458.5 392.4h.01M459.4 392.9h.01M460.4 393.4h.01M461.3 393.8h.01M462.2 394.2h.01M463.1 394.7h.01M464.0 395.1h.01M464.9 395.5h.01M465.8 395.9h.01M466.8 396.2h.01M467.7 396.6h.01M468.6 396.9h.01M469.5 397.2h.01M470.4 397.5h.01M471.3 397.8h.01M472.2 398.1h.01M473.2 398.3h.01M474.1 398.6h.01M475.0 398.8h.01M475.9 399.0h.01M476.8 399.2h.01M477.7 399.5h.01M478.6 399.7h.01M479.5 399.9h.01M480.5 400.1h.01M481.4 400.3h.01M482.3 400.5h.01M483.2 400.8h.01M484.1 401.0h.01M485.0 401.3h.01M485.9 401.5h.01M486.9 401.8h.01M487.8 402.1h.01M488.7 402.3h.01M489.6 402.6h.01M490.5 402.8h.01M491.4 403.1h.01M492.3 403.3h.01M493.3 403.5h.01M494.2 403.7h.01M495.1 403.9h.01M496.0 404.1h.01M496.9 404.3h.01M497.8 404.4h.01M498.7 404.6h.01M499.7 404.7h.01M500.6 404.8h.01M501.5 404.9h.01M502.4 405.1h.01M503.3 405.2h.01M504.2 405.3h.01M505.1 405.4h.01M506.0 405.4h.01M507.0 405.5h.01M507.9 405.6h.01M508.8 405.7h.01M509.7 405.8h.01M510.6 405.9h.01M511.5 406.0h.01M512.4 406.0h.01M513.4 406.1h.01M514.3 406.2h.01M515.2 406.3h.01M516.1 406.3h.01M517.0 406.4h.01M517.9 406.5h.01M518.8 406.6h.01M519.8 406.7h.01M520.7 406.8h.01M521.6 406.9h.01M522.5 407.0h.01M523.4 407.1h.01M524.3 407.2h.01M525.2 407.3h.01M526.1 407.4h.01M527.1 407.5h.01M528.0 407.5h.01M528.9 407.6h.01M529.8 407.7h.01M530.7 407.8h.01M531.6 407.9h.01M532.5 407.9h.01M533.5 408.0h.01M534.4 408.0h.01M535.3 408.1h.01M536.2 408.1h.01M537.1 408.1h.01M538.0 408.1h.01M538.9 408.1h.01M539.9 408.1h.01M540.8 408.1h.01M541.7 408.1h.01M542.6 408.1h.01M543.5 408.1h.01M544.4 408.1h.01M545.3 408.1h.01M546.2 408.1h.01M547.2 408.1h.01M548.1 408.1h.01M549.0 408.1h.01M549.9 408.1h.01M550.8 408.1h.01M551.7 408.1h.01M552.6 408.1h.01M553.6 408.1h.01M554.5 408.2h.01M555.4 408.2h.01M556.3 408.2h.01M557.2 408.2h.01M558.1 408.2h.01M559.0 408.2h.01M560.0 408.2h.01M560.9 408.2h.01M561.8 408.3h.01M562.7 409.0h.01M563.6 409.9h.01M564.5 410.0h.01M565.4 410.0h.01M566.4 410.0h.01M567.3 410.0h.01M568.2 410.0h.01M569.1 410.0h.01M570.0 410.0h.01M570.9 410.0h.01M571.8 410.0h.01M572.7 410.0h.01M573.7 410.0h.01M574.6 410.0h.01M575.5 410.0h.01M576.4 410.0h.01M577.3 410.0h.01M578.2 410.0h.01M579.1 410.0h.01M580.1 410.0h.01M581.0 410.0h.01M581.9 410.0h.01M582.8 410.0h.01M583.7 410.0h.01M584.6 410.0h.01M585.5 410.0h.01M586.5 410.0h.01M587.4 410.0h.01M588.3 410.0h.01M589.2 410.0h.01M590.1 410.1h.01M591.0 410.1h.01M591.9 410.1h.01M592.8 410.1h.01M593.8 410.1h.01M594.7 410.1h.01M595.6 410.1h.01M596.5 410.1h.01M597.4 410.1h.01M598.3 410.1h.01M599.2 410.1h.01M600.2 410.1h.01M601.1 410.1h.01M602.0 410.1h.01M602.9 410.1h.01M603.8 410.1h.01M604.7 410.1h.01M605.6 410.1h.01M606.6 410.1h.01M607.5 410.1h.01M608.4 410.1h.01M609.3 410.1h.01M610.2 410.1h.01M611.1 410.1h.01M612.0 410.1h.01M613.0 410.1h.01M613.9 410.1h.01M614.8 410.1h.01M615.7 410.4h.01M616.6 411.2h.01M617.5 411.7h.01M618.4 411.7h.01M619.3 411.7h.01M620.3 411.7h.01M621.2 411.7h.01M622.1 411.7h.01M623.0 411.7h.01M623.9 411.7h.01M624.8 411.7h.01M625.7 411.7h.01M626.7 411.7h.01M627.6 411.7h.01M628.5 411.7h.01M629.4 411.7h.01M630.3 411.7h.01M631.2 411.7h.01M632.1 411.7h.01M633.1 411.7h.01M634.0 411.7h.01M634.9 411.7h.01M635.8 411.7h.01M636.7 411.7h.01M637.6 411.7h.01M638.5 411.7h.01M639.4 411.7h.01M640.4 411.7h.01M641.3 411.7h.01M642.2 411.7h.01M643.1 411.7h.01M644.0 411.7h.01M644.9 411.6h.01M645.8 411.6h.01M646.8 411.6h.01M647.7 411.6h.01M648.6 411.6h.01M649.5 411.6h.01M650.4 411.6h.01M651.3 411.6h.01M652.2 411.6h.01M653.2 411.6h.01M654.1 411.6h.01M655.0 411.6h.01M655.9 411.6h.01M656.8 411.6h.01M657.7 411.6h.01M658.6 411.6h.01M659.5 411.6h.01M660.5 411.6h.01M661.4 411.6h.01M662.3 411.6h.01M663.2 411.6h.01M664.1 411.6h.01M665.0 411.6h.01M665.9 411.6h.01M666.9 411.6h.01M667.8 411.6h.01M668.7 411.6h.01M669.6 411.6h.01M670.5 411.6h.01M671.4 411.6h.01M672.3 411.6h.01M673.3 411.9h.01M674.2 412.3h.01M675.1 412.8h.01M676.0 413.2h.01M676.9 413.4h.01M677.8 413.4h.01M678.7 413.4h.01M679.7 413.4h.01M680.6 413.4h.01M681.5 413.4h.01M682.4 413.4h.01M683.3 413.4h.01M684.2 413.4h.01M685.1 413.4h.01M686.0 413.4h.01M687.0 413.4h.01M687.9 413.4h.01M688.8 413.4h.01M689.7 413.4h.01M690.6 413.4h.01M691.5 413.4h.01M692.4 413.4h.01M693.4 413.4h.01M694.3 413.4h.01M695.2 413.4h.01M696.1 413.4h.01M697.0 413.4h.01M697.9 413.4h.01M698.8 413.4h.01M699.8 413.4h.01M700.7 413.4h.01M701.6 413.4h.01M702.5 413.4h.01M703.4 413.4h.01M704.3 413.4h.01M705.2 413.4h.01M706.1 413.4h.01M707.1 413.4h.01M708.0 413.4h.01M708.9 413.4h.01M709.8 413.4h.01M710.7 413.4h.01M711.6 413.4h.01M712.5 413.4h.01M713.5 413.4h.01M714.4 413.4h.01M715.3 413.4h.01M716.2 413.4h.01M717.1 413.4h.01M718.0 413.4h.01M718.9 413.4h.01M719.9 413.4h.01M720.8 413.4h.01M721.7 413.4h.01M722.6 413.4h.01M723.5 413.4h.01M724.4 413.4h.01M725.3 413.4h.01M726.2 413.4h.01M727.2 413.4h.01M728.1 413.4h.01M729.0 413.4h.01M729.9 413.6h.01M730.8 414.1h.01M731.7 414.6h.01M732.6 415.0h.01M733.6 415.0h.01M734.5 415.0h.01M735.4 415.0h.01M736.3 415.0h.01M737.2 415.0h.01M738.1 415.0h.01M739.0 415.0h.01M740.0 415.0h.01M740.9 415.0h.01M741.8 415.0h.01M742.7 415.0h.01M743.6 415.0h.01M744.5 415.0h.01M745.4 415.0h.01M746.4 415.0h.01M747.3 415.0h.01M748.2 415.0h.01M749.1 415.0h.01M750.0 415.0h.01M750.9 415.0h.01M751.8 415.0h.01M752.7 415.0h.01M753.7 415.0h.01M754.6 415.0h.01M755.5 415.0h.01M756.4 415.0h.01M757.3 415.0h.01M758.2 415.0h.01M759.1 415.0h.01M760.1 415.0h.01M761.0 415.0h.01M761.9 415.0h.01M762.8 415.0h.01M763.7 415.0h.01M764.6 415.0h.01M765.5 415.0h.01M766.5 415.0h.01M767.4 415.0h.01M768.3 415.0h.01M769.2 415.0h.01M770.1 415.0h.01M771.0 415.0h.01M771.9 415.0h.01M772.8 415.0h.01M773.8 415.0h.01M774.7 415.0h.01M775.6 415.0h.01M776.5 415.0h.01M777.4 415.0h.01M778.3 415.0h.01M779.2 415.0h.01M780.2 415.0h.01M781.1 415.0h.01M782.0 415.0h.01M782.9 415.0h.01M783.8 415.0h.01M784.7 415.0h.01M785.6 415.0h.01M786.6 415.0h.01M787.5 415.0h.01M788.4 415.0h.01M789.3 415.0h.01M790.2 415.0h.01M791.1 415.0h.01M792.0 415.0h.01M792.9 415.0h.01M793.9 415.0h.01M794.8 415.0h.01M795.7 415.0h.01M796.6 415.0h.01M797.5 415.0h.01M798.4 415.0h.01M799.3 415.0h.01M800.3 415.0h.01M801.2 415.0h.01M802.1 415.0h.01M803.0 415.0h.01M803.9 415.0h.01M804.8 415.0h.01M805.7 415.2h.01M806.7 415.9h.01M807.6 416.4h.01M808.5 416.5h.01M809.4 416.5h.01M810.3 416.5h.01M811.2 416.5h.01M812.1 416.5h.01M813.1 416.5h.01M814.0 416.5h.01M814.9 416.5h.01M815.8 416.5h.01M816.7 416.5h.01M817.6 416.5h.01M818.5 416.5h.01M819.4 416.5h.01M820.4 416.5h.01M821.3 416.5h.01M822.2 416.5h.01M823.1 416.5h.01M824.0 416.5h.01M824.9 416.5h.01M825.8 416.5h.01M826.8 416.5h.01M827.7 416.5h.01M828.6 416.5h.01M829.5 416.5h.01M830.4 416.5h.01M831.3 416.5h.01M832.2 416.5h.01M833.2 416.5h.01M834.1 416.5h.01M835.0 416.5h.01M835.9 416.5h.01M836.8 416.5h.01M837.7 416.5h.01M838.6 416.5h.01M839.5 416.5h.01M840.5 416.5h.01M841.4 416.5h.01M842.3 416.5h.01M843.2 416.5h.01M844.1 416.5h.01M845.0 416.5h.01M845.9 416.5h.01M846.9 416.5h.01M847.8 416.5h.01M848.7 416.5h.01M849.6 416.5h.01M850.5 416.5h.01M851.4 416.5h.01M852.3 416.5h.01M853.3 416.5h.01M854.2 416.5h.01M855.1 416.5h.01M856.0 416.5h.01M856.9 416.5h.01M857.8 416.5h.01M858.7 416.5h.01M859.6 416.5h.01M860.6 416.5h.01M861.5 416.5h.01M862.4 416.5h.01M863.3 416.5h.01M864.2 416.5h.01M865.1 416.5h.01M866.0 416.5h.01M867.0 416.5h.01M867.9 416.5h.01M868.8 416.5h.01M869.7 416.5h.01M870.6 416.5h.01M871.5 416.5h.01M872.4 416.5h.01M873.4 416.5h.01M874.3 416.5h.01M875.2 416.5h.01M876.1 416.5h.01M877.0 416.5h.01M877.9 416.5h.01M878.8 416.5h.01M879.8 416.5h.01M880.7 416.5h.01M881.6 416.5h.01M882.5 416.5h.01M883.4 416.5h.01M884.3 416.5h.01M885.2 416.5h.01M886.1 416.5h.01M887.1 416.5h.01M888.0 416.5h.01M888.9 416.5h.01M889.8 416.5h.01M890.7 416.5h.01M891.6 416.5h.01M892.5 416.5h.01M893.5 416.5h.01M894.4 416.5h.01M895.3 416.5h.01M896.2 416.5h.01M897.1 416.5h.01M898.0 416.5h.01M898.9 416.5h.01M899.9 416.5h.01M900.8 416.5h.01M901.7 416.5h.01M902.6 416.5h.01M903.5 416.5h.01M904.4 416.5h.01M905.3 416.5h.01M906.2 416.5h.01M907.2 416.5h.01M908.1 416.5h.01M909.0 416.5h.01M909.9 416.5h.01M910.8 416.5h.01M911.7 416.5h.01M912.6 416.5h.01M913.6 416.5h.01M914.5 416.5h.01M915.4 416.5h.01M916.3 416.5h.01M917.2 416.5h.01M918.1 416.5h.01M919.0 416.5h.01M920.0 416.5h.01M920.9 416.5h.01M921.8 416.5h.01M922.7 416.5h.01M923.6 416.5h.01M924.5 416.5h.01M925.4 416.5h.01M926.3 416.5h.01M927.3 416.5h.01M928.2 416.5h.01M929.1 416.5h.01M930.0 416.5h.01M930.9 416.5h.01M931.8 416.5h.01M932.7 416.5h.01M933.7 416.5h.01M934.6 416.5h.01M935.5 416.5h.01M936.4 416.5h.01M937.3 416.5h.01M938.2 416.5h.01M939.1 416.5h.01M940.1 416.5h.01M941.0 416.5h.01M941.9 416.5h.01M942.8 416.5h.01M943.7 416.5h.01M944.6 416.5h.01M945.5 416.5h.01M946.5 416.5h.01M947.4 416.5h.01M948.3 416.5h.01M949.2 416.5h.01M950.1 416.5h.01M951.0 416.5h.01M951.9 416.5h.01M952.8 416.5h.01M953.8 416.5h.01M954.7 416.5h.01M955.6 416.5h.01M956.5 416.5h.01M957.4 416.5h.01M958.3 416.5h.01M959.2 416.5h.01M960.2 416.5h.01M961.1 416.5h.01M962.0 416.5h.01M962.9 416.5h.01M963.8 416.5h.01M964.7 416.5h.01M965.6 416.5h.01M966.6 416.5h.01M967.5 416.5h.01M968.4 416.5h.01M969.3 416.5h.01M970.2 416.5h.01M971.1 416.5h.01M972.0 416.5h.01M972.9 416.5h.01M973.9 416.5h.01M974.8 416.5h.01M975.7 416.5h.01M976.6 416.5h.01M977.5 416.5h.01M978.4 416.5h.01M979.3 416.5h.01M980.3 416.5h.01M981.2 416.5h.01M982.1 416.5h.01M983.0 416.5h.01M983.9 416.5h.01M984.8 416.5h.01M985.7 416.5h.01M986.7 416.5h.01M987.6 416.5h.01M988.5 416.5h.01M989.4 416.5h.01M990.3 416.5h.01M991.2 416.5h.01M992.1 416.5h.01M993.0 416.5h.01M994.0 416.5h.01M994.9 417.0h.01M995.8 417.9h.01M996.7 418.2h.01M997.6 418.2h.01M998.5 418.2h.01M999.4 418.2h.01M1000.4 418.2h.01M1001.3 418.2h.01M1002.2 418.2h.01M1003.1 418.2h.01" fill="none" stroke="#008000" stroke-width="7.3" stroke-linecap="round"/>
<path d="M89.4 244.4h.01M90.3 244.0h.01M91.2 243.6h.01M92.1 243.2h.01M93.1 242.8h.01M94.0 242.4h.01M94.9 242.0h.01M95.8 241.6h.01M96.7 241.2h.01M97.6 240.8h.01M98.5 240.4h.01M99.5 240.0h.01M100.4 239.6h.01M101.3 239.2h.01M102.2 238.8h.01M103.1 238.3h.01M104.0 237.9h.01M104.9 237.5h.01M105.8 237.1h.01M106.8 236.7h.01M107.7 236.3h.01M108.6 235.9h.01M109.5 235.5h.01M110.4 235.1h.01M111.3 234.6h.01M112.2 234.2h.01M113.2 233.8h.01M114.1 233.4h.01M115.0 232.9h.01M115.9 232.5h.01M116.8 232.1h.01M117.7 231.6h.01M118.6 231.1h.01M119.6 230.7h.01M120.5 230.2h.01M121.4 229.6h.01M122.3 229.1h.01M123.2 228.5h.01M124.1 227.9h.01M125.0 227.3h.01M125.9 226.6h.01M126.9 225.9h.01M127.8 225.2h.01M128.7 224.6h.01M129.6 223.9h.01M130.5 223.2h.01M131.4 222.5h.01M132.3 221.8h.01M133.3 221.1h.01M134.2 220.4h.01M135.1 219.6h.01M136.0 218.9h.01M136.9 218.1h.01M137.8 217.3h.01M138.7 216.5h.01M139.7 215.7h.01M140.6 214.9h.01M141.5 214.0h.01M142.4 213.2h.01M143.3 212.3h.01M144.2 211.4h.01M145.1 210.6h.01M146.0 209.7h.01M147.0 208.8h.01M147.9 207.9h.01M148.8 207.0h.01M149.7 206.1h.01M150.6 205.2h.01M151.5 204.3h.01M152.4 203.3h.01M153.4 202.4h.01M154.3 201.4h.01M155.2 200.5h.01M156.1 199.5h.01M157.0 198.5h.01M157.9 197.5h.01M158.8 196.5h.01M159.8 195.5h.01M160.7 194.5h.01M161.6 193.4h.01M162.5 192.3h.01M163.4 191.2h.01M164.3 190.0h.01M165.2 188.7h.01M166.2 187.4h.01M167.1 186.0h.01M168.0 184.6h.01M168.9 183.1h.01M169.8 181.6h.01M170.7 180.2h.01M171.6 178.7h.01M172.5 177.3h.01M173.5 175.9h.01M174.4 174.4h.01M175.3 173.0h.01M176.2 171.5h.01M177.1 170.1h.01M178.0 168.6h.01M178.9 167.1h.01M179.9 165.6h.01M180.8 164.2h.01M181.7 162.7h.01M182.6 161.2h.01M183.5 159.7h.01M184.4 158.1h.01M185.3 156.6h.01M186.3 155.1h.01M187.2 153.5h.01M188.1 151.9h.01M189.0 150.3h.01M189.9 148.6h.01M190.8 147.0h.01M191.7 145.3h.01M192.6 143.6h.01M193.6 141.9h.01M194.5 140.2h.01M195.4 138.4h.01M196.3 136.6h.01M197.2 134.7h.01M198.1 132.7h.01M199.0 130.8h.01M200.0 128.9h.01M200.9 127.0h.01M201.8 125.3h.01M202.7 123.8h.01M203.6 122.3h.01M204.5 120.9h.01M205.4 119.5h.01M206.4 118.2h.01M207.3 116.9h.01M208.2 115.6h.01M209.1 114.4h.01M210.0 113.2h.01M210.9 112.0h.01M211.8 110.9h.01M212.7 109.7h.01M213.7 108.5h.01M214.6 107.4h.01M215.5 106.3h.01M216.4 105.2h.01M217.3 104.1h.01M218.2 103.1h.01M219.1 102.1h.01M220.1 101.3h.01M221.0 100.5h.01M221.9 99.7h.01M222.8 98.9h.01M223.7 98.2h.01M224.6 97.6h.01M225.5 97.1h.01M226.5 96.7h.01M227.4 96.3h.01M228.3 95.9h.01M229.2 95.6h.01M230.1 95.4h.01M231.0 95.3h.01M231.9 95.3h.01M232.9 95.2h.01M233.8 95.2h.01M234.7 95.2h.01M235.6 95.1h.01M236.5 95.1h.01M237.4 95.1h.01M238.3 95.1h.01M239.2 95.1h.01M240.2 95.1h.01M241.1 95.1h.01M242.0 95.1h.01M242.9 95.1h.01M243.8 95.1h.01M244.7 95.1h.01M245.6 95.1h.01M246.6 95.1h.01M247.5 95.1h.01M248.4 95.1h.01M249.3 95.1h.01M250.2 95.1h.01M251.1 95.1h.01M252.0 95.1h.01M253.0 95.1h.01M253.9 95.4h.01M254.8 96.1h.01M255.7 96.7h.01M256.6 96.7h.01M257.5 96.7h.01M258.4 96.7h.01M259.3 96.7h.01M260.3 96.7h.01M261.2 96.7h.01M262.1 96.7h.01M263.0 96.7h.01M263.9 96.7h.01M264.8 96.7h.01M265.7 96.7h.01M266.7 96.7h.01M267.6 96.7h.01M268.5 96.7h.01M269.4 96.7h.01M270.3 96.7h.01M271.2 96.7h.01M272.1 96.7h.01M273.1 96.7h.01M274.0 96.7h.01M274.9 96.6h.01M275.8 96.4h.01M276.7 96.1h.01M277.6 95.7h.01M278.5 95.3h.01M279.4 95.0h.01M280.4 94.6h.01M281.3 94.1h.01M282.2 93.6h.01M283.1 93.1h.01M284.0 92.6h.01M284.9 92.2h.01M285.8 91.8h.01M286.8 91.5h.01M287.7 91.1h.01M288.6 90.7h.01M289.5 90.2h.01M290.4 89.6h.01M291.3 88.9h.01M292.2 88.2h.01M293.2 87.5h.01M294.1 86.8h.01M295.0 86.0h.01M295.9 85.4h.01M296.8 84.8h.01M297.7 84.2h.01M298.6 83.6h.01M299.6 83.0h.01M300.5 82.3h.01M301.4 81.6h.01M302.3 80.9h.01M303.2 80.1h.01M304.1 79.3h.01M305.0 78.4h.01M305.9 77.5h.01M306.9 76.4h.01M307.8 75.1h.01M308.7 73.7h.01M309.6 72.3h.01M310.5 70.9h.01M311.4 69.5h.01M312.3 68.0h.01M313.3 66.6h.01M314.2 65.1h.01M315.1 63.6h.01M316.0 62.1h.01M316.9 60.5h.01M317.8 59.0h.01M318.7 57.5h.01M319.7 56.0h.01M320.6 54.5h.01M321.5 52.9h.01M322.4 51.5h.01M323.3 50.0h.01M324.2 48.7h.01M325.1 47.4h.01M326.0 46.1h.01M327.0 44.9h.01M327.9 43.7h.01M328.8 42.5h.01M329.7 41.4h.01M330.6 40.3h.01M331.5 39.2h.01M332.4 38.2h.01M333.4 37.2h.01M334.3 36.3h.01M335.2 35.4h.01M336.1 34.6h.01M337.0 33.9h.01M337.9 33.1h.01M338.8 32.4h.01M339.8 31.8h.01M340.7 31.2h.01M341.6 30.8h.01M342.5 30.5h.01M343.4 30.4h.01M344.3 30.5h.01M345.2 30.7h.01M346.1 30.9h.01M347.1 31.3h.01M348.0 31.7h.01M348.9 32.2h.01M349.8 32.7h.01M350.7 33.5h.01M351.6 34.5h.01M352.5 35.7h.01M353.5 37.1h.01M354.4 38.6h.01M355.3 40.1h.01M356.2 41.9h.01M357.1 43.9h.01M358.0 46.0h.01M358.9 48.3h.01M359.9 50.6h.01M360.8 52.9h.01M361.7 55.3h.01M362.6 57.8h.01M363.5 60.4h.01M364.4 63.0h.01M365.3 65.9h.01M366.3 68.9h.01M367.2 72.2h.01M368.1 75.8h.01M369.0 79.6h.01M369.9 83.4h.01M370.8 87.1h.01M371.7 90.6h.01M372.6 94.1h.01M373.6 97.6h.01M374.5 101.0h.01M375.4 104.5h.01M376.3 107.8h.01M377.2 111.3h.01M378.1 114.8h.01M379.0 118.5h.01M380.0 122.5h.01M380.9 126.8h.01M381.8 131.2h.01M382.7 135.7h.01M383.6 140.1h.01M384.5 144.6h.01M385.4 149.2h.01M386.4 153.8h.01M387.3 158.1h.01M388.2 162.1h.01M389.1 166.0h.01M390.0 169.7h.01M390.9 173.5h.01M391.8 177.5h.01M392.7 181.7h.01M393.7 186.1h.01M394.6 190.7h.01M395.5 195.3h.01M396.4 199.8h.01M397.3 204.3h.01M398.2 208.8h.01M399.1 213.3h.01M400.1 217.6h.01M401.0 221.7h.01M401.9 225.5h.01M402.8 229.1h.01M403.7 232.7h.01M404.6 236.4h.01M405.5 240.1h.01M406.5 243.9h.01M407.4 247.8h.01M408.3 251.7h.01M409.2 255.5h.01M410.1 259.1h.01M411.0 262.6h.01M411.9 266.0h.01M412.8 269.3h.01M413.8 272.5h.01M414.7 275.7h.01M415.6 278.9h.01M416.5 282.1h.01M417.4 285.3h.01M418.3 288.4h.01M419.2 291.5h.01M420.2 294.6h.01M421.1 297.4h.01M422.0 300.1h.01M422.9 302.6h.01M423.8 305.0h.01M424.7 307.2h.01M425.6 309.3h.01M426.6 311.3h.01M427.5 313.4h.01M428.4 315.4h.01M429.3 317.5h.01M430.2 319.7h.01M431.1 321.9h.01M432.0 324.0h.01M433.0 326.2h.01M433.9 328.4h.01M434.8 330.5h.01M435.7 332.5h.01M436.6 334.5h.01M437.5 336.4h.01M438.4 338.3h.01M439.3 340.1h.01M440.3 341.9h.01M441.2 343.7h.01M442.1 345.5h.01M443.0 347.2h.01M443.9 348.9h.01M444.8 350.4h.01M445.7 351.8h.01M446.7 353.2h.01M447.6 354.5h.01M448.5 355.7h.01M449.4 356.9h.01M450.3 358.1h.01M451.2 359.2h.01M452.1 360.2h.01M453.1 361.3h.01M454.0 362.3h.01M454.9 363.2h.01M455.8 364.2h.01M456.7 365.1h.01M457.6 366.0h.01M458.5 366.8h.01M459.4 367.7h.01M460.4 368.6h.01M461.3 369.4h.01M462.2 370.3h.01M463.1 371.1h.01M464.0 371.9h.01M464.9 372.7h.01M465.8 373.5h.01M466.8 374.2h.01M467.7 374.9h.01M468.6 375.6h.01M469.5 376.3h.01M470.4 376.9h.01M471.3 377.4h.01M472.2 378.0h.01M473.2 378.6h.01M474.1 379.1h.01M475.0 379.6h.01M475.9 380.1h.01M476.8 380.5h.01M477.7 381.0h.01M478.6 381.5h.01M479.5 381.9h.01M480.5 382.3h.01M481.4 382.7h.01M482.3 383.1h.01M483.2 383.5h.01M484.1 383.9h.01M485.0 384.3h.01M485.9 384.6h.01M486.9 385.0h.01M487.8 385.3h.01M488.7 385.7h.01M489.6 386.0h.01M490.5 386.3h.01M491.4 386.6h.01M492.3 387.0h.01M493.3 387.3h.01M494.2 387.5h.01M495.1 387.8h.01M496.0 388.1h.01M496.9 388.4h.01M497.8 388.6h.01M498.7 388.9h.01M499.7 389.2h.01M500.6 389.4h.01M501.5 389.7h.01M502.4 389.9h.01M503.3 390.1h.01M504.2 390.4h.01M505.1 390.6h.01M506.0 390.8h.01M507.0 391.0h.01M507.9 391.2h.01M508.8 391.3h.01M509.7 391.5h.01M510.6 391.7h.01M511.5 391.8h.01M512.4 392.0h.01M513.4 392.1h.01M514.3 392.3h.01M515.2 392.4h.01M516.1 392.6h.01M517.0 392.7h.01M517.9 392.8h.01M518.8 393.0h.01M519.8 393.1h.01M520.7 393.2h.01M521.6 393.3h.01M522.5 393.4h.01M523.4 393.5h.01M524.3 393.6h.01M525.2 393.7h.01M526.1 393.8h.01M527.1 393.9h.01M528.0 394.0h.01M528.9 394.1h.01M529.8 394.1h.01M530.7 394.2h.01M531.6 394.3h.01M532.5 394.4h.01M533.5 394.4h.01M534.4 394.5h.01M535.3 394.6h.01M536.2 394.6h.01M537.1 394.7h.01M538.0 394.7h.01M538.9 394.8h.01M539.9 394.8h.01M540.8 394.9h.01M541.7 394.9h.01M542.6 395.0h.01M543.5 395.0h.01M544.4 395.1h.01M545.3 395.1h.01M546.2 395.2h.01M547.2 395.3h.01M548.1 395.3h.01M549.0 395.4h.01M549.9 395.5h.01M550.8 395.6h.01M551.7 395.7h.01M552.6 395.8h.01M553.6 395.8h.01M554.5 395.9h.01M555.4 396.0h.01M556.3 396.1h.01M557.2 396.2h.01M558.1 396.3h.01M559.0 396.4h.01M560.0 396.5h.01M560.9 396.6h.01M561.8 396.7h.01M562.7 396.8h.01M563.6 396.9h.01M564.5 397.1h.01M565.4 397.2h.01M566.4 397.3h.01M567.3 397.4h.01M568.2 397.5h.01M569.1 397.6h.01M570.0 397.8h.01M570.9 397.9h.01M571.8 398.0h.01M572.7 398.2h.01M573.7 398.3h.01M574.6 398.4h.01M575.5 398.6h.01M576.4 398.7h.01M577.3 398.9h.01M578.2 399.0h.01M579.1 399.2h.01M580.1 399.3h.01M581.0 399.5h.01M581.9 399.6h.01M582.8 399.8h.01M583.7 400.0h.01M584.6 400.1h.01M585.5 400.3h.01M586.5 400.5h.01M587.4 400.7h.01M588.3 400.8h.01M589.2 401.0h.01M590.1 401.2h.01M591.0 401.4h.01M591.9 401.6h.01M592.8 401.8h.01M593.8 401.9h.01M594.7 402.1h.01M595.6 402.3h.01M596.5 402.5h.01M597.4 402.7h.01M598.3 402.9h.01M599.2 403.1h.01M600.2 403.2h.01M601.1 403.4h.01M602.0 403.6h.01M602.9 403.8h.01M603.8 403.9h.01M604.7 404.1h.01M605.6 404.3h.01M606.6 404.5h.01M607.5 404.6h.01M608.4 404.8h.01M609.3 405.0h.01M610.2 405.2h.01M611.1 405.3h.01M612.0 405.5h.01M613.0 405.7h.01M613.9 405.9h.01M614.8 406.1h.01M615.7 406.3h.01M616.6 406.5h.01M617.5 406.6h.01M618.4 406.8h.01M619.3 407.0h.01M620.3 407.2h.01M621.2 407.5h.01M622.1 407.7h.01M623.0 407.9h.01M623.9 408.1h.01M624.8 408.3h.01M625.7 408.6h.01M626.7 408.8h.01M627.6 409.1h.01M628.5 409.3h.01M629.4 409.5h.01M630.3 409.8h.01M631.2 410.0h.01M632.1 410.3h.01M633.1 410.5h.01M634.0 410.7h.01M634.9 411.0h.01M635.8 411.2h.01M636.7 411.4h.01M637.6 411.6h.01M638.5 411.9h.01M639.4 412.1h.01M640.4 412.3h.01M641.3 412.5h.01M642.2 412.7h.01M643.1 412.9h.01M644.0 413.1h.01M644.9 413.3h.01M645.8 413.6h.01M646.8 413.8h.01M647.7 414.0h.01M648.6 414.2h.01M649.5 414.4h.01M650.4 414.6h.01M651.3 414.8h.01M652.2 415.0h.01M653.2 415.2h.01M654.1 415.3h.01M655.0 415.5h.01M655.9 415.7h.01M656.8 415.9h.01M657.7 416.1h.01M658.6 416.3h.01M659.5 416.5h.01M660.5 416.6h.01M661.4 416.8h.01M662.3 417.0h.01M663.2 417.2h.01M664.1 417.3h.01M665.0 417.5h.01M665.9 417.7h.01M666.9 417.8h.01M667.8 418.0h.01M668.7 418.2h.01M669.6 418.3h.01M670.5 418.5h.01M671.4 418.7h.01M672.3 418.8h.01M673.3 419.0h.01M674.2 419.1h.01M675.1 419.3h.01M676.0 419.5h.01M676.9 419.7h.01M677.8 419.8h.01M678.7 420.0h.01M679.7 420.2h.01M680.6 420.4h.01M681.5 420.5h.01M682.4 420.7h.01M683.3 420.9h.01M684.2 421.1h.01M685.1 421.3h.01M686.0 421.5h.01M687.0 421.7h.01M687.9 421.9h.01M688.8 422.1h.01M689.7 422.3h.01M690.6 422.4h.01M691.5 422.6h.01M692.4 422.8h.01M693.4 423.0h.01M694.3 423.2h.01M695.2 423.3h.01M696.1 423.5h.01M697.0 423.7h.01M697.9 423.8h.01M698.8 424.0h.01M699.8 424.1h.01M700.7 424.3h.01M701.6 424.4h.01M702.5 424.6h.01M703.4 424.7h.01M704.3 424.9h.01M705.2 425.0h.01M706.1 425.1h.01M707.1 425.3h.01M708.0 425.4h.01M708.9 425.5h.01M709.8 425.7h.01M710.7 425.8h.01M711.6 425.9h.01M712.5 426.1h.01M713.5 426.2h.01M714.4 426.3h.01M715.3 426.4h.01M716.2 426.6h.01M717.1 426.7h.01M718.0 426.8h.01M718.9 426.9h.01M719.9 427.0h.01M720.8 427.1h.01M721.7 427.3h.01M722.6 427.4h.01M723.5 427.5h.01M724.4 427.6h.01M725.3 427.7h.01M726.2 427.8h.01M727.2 427.9h.01M728.1 428.0h.01M729.0 428.1h.01M729.9 428.2h.01M730.8 428.3h.01M731.7 428.4h.01M732.6 428.5h.01M733.6 428.6h.01M734.5 428.7h.01M735.4 428.8h.01M736.3 428.9h.01M737.2 429.0h.01M738.1 429.1h.01M739.0 429.2h.01M740.0 429.3h.01M740.9 429.4h.01M741.8 429.5h.01M742.7 429.6h.01M743.6 429.7h.01M744.5 429.8h.01M745.4 429.9h.01M746.4 430.0h.01M747.3 430.1h.01M748.2 430.2h.01M749.1 430.3h.01M750.0 430.5h.01M750.9 430.6h.01M751.8 430.7h.01M752.7 430.8h.01M753.7 430.9h.01M754.6 431.0h.01M755.5 431.1h.01M756.4 431.2h.01M757.3 431.4h.01M758.2 431.5h.01M759.1 431.6h.01M760.1 431.6h.01M761.0 431.6h.01M761.9 431.6h.01M762.8 431.6h.01M763.7 431.6h.01M764.6 431.6h.01M765.5 431.6h.01M766.5 431.6h.01M767.4 431.6h.01M768.3 431.6h.01M769.2 431.6h.01M770.1 431.6h.01M771.0 431.6h.01M771.9 431.6h.01M772.8 431.6h.01M773.8 431.6h.01M774.7 431.6h.01M775.6 431.6h.01M776.5 431.6h.01M777.4 431.6h.01M778.3 431.6h.01M779.2 431.6h.01M780.2 431.6h.01M781.1 431.6h.01M782.0 431.6h.01M782.9 431.6h.01M783.8 431.6h.01M784.7 432.0h.01M785.6 433.0h.01M786.6 433.5h.01M787.5 433.5h.01M788.4 433.5h.01M789.3 433.5h.01M790.2 433.5h.01M791.1 433.5h.01M792.0 433.5h.01M792.9 433.5h.01M793.9 433.5h.01M794.8 433.5h.01M795.7 433.5h.01M796.6 433.5h.01M797.5 433.5h.01M798.4 433.5h.01M799.3 433.5h.01M800.3 433.5h.01M801.2 433.5h.01M802.1 433.5h.01M803.0 433.5h.01M803.9 433.5h.01M804.8 433.5h.01M805.7 433.5h.01M806.7 433.5h.01M807.6 433.5h.01M808.5 433.5h.01M809.4 433.5h.01M810.3 433.5h.01M811.2 433.5h.01M812.1 433.5h.01M813.1 433.5h.01M814.0 433.5h.01M814.9 433.5h.01M815.8 433.5h.01M816.7 433.5h.01M817.6 433.5h.01M818.5 433.7h.01M819.4 434.5h.01M820.4 435.1h.01M821.3 435.1h.01M822.2 435.1h.01M823.1 435.1h.01M824.0 435.1h.01M824.9 435.1h.01M825.8 435.1h.01M826.8 435.1h.01M827.7 435.1h.01M828.6 435.1h.01M829.5 435.1h.01M830.4 435.1h.01M831.3 435.1h.01M832.2 435.1h.01M833.2 435.1h.01M834.1 435.1h.01M835.0 435.1h.01M835.9 435.1h.01M836.8 435.1h.01M837.7 435.1h.01M838.6 435.1h.01M839.5 435.1h.01M840.5 435.1h.01M841.4 435.1h.01M842.3 435.1h.01M843.2 435.1h.01M844.1 435.1h.01M845.0 435.1h.01M845.9 435.1h.01M846.9 435.1h.01M847.8 435.1h.01M848.7 435.1h.01M849.6 435.1h.01M850.5 435.1h.01M851.4 435.1h.01M852.3 435.1h.01M853.3 435.1h.01M854.2 435.1h.01M855.1 435.1h.01M856.0 435.1h.01M856.9 435.1h.01M857.8 435.1h.01M858.7 435.1h.01M859.6 435.1h.01M860.6 435.1h.01M861.5 435.1h.01M862.4 435.1h.01M863.3 435.1h.01M864.2 435.1h.01M865.1 435.1h.01M866.0 435.1h.01M867.0 435.1h.01M867.9 435.1h.01M868.8 435.1h.01M869.7 435.1h.01M870.6 435.1h.01M871.5 435.1h.01M872.4 435.1h.01M873.4 435.1h.01M874.3 435.1h.01M875.2 435.1h.01M876.1 435.1h.01M877.0 435.1h.01M877.9 435.1h.01M878.8 435.1h.01M879.8 435.1h.01M880.7 435.1h.01M881.6 435.1h.01M882.5 435.1h.01M883.4 435.1h.01M884.3 435.1h.01M885.2 435.1h.01M886.1 435.1h.01M887.1 435.1h.01M888.0 435.7h.01M888.9 436.6h.01M889.8 436.9h.01M890.7 436.9h.01M891.6 436.9h.01M892.5 436.9h.01M893.5 436.9h.01M894.4 436.9h.01M895.3 436.9h.01M896.2 436.9h.01M897.1 436.9h.01M898.0 436.9h.01M898.9 436.9h.01M899.9 436.9h.01M900.8 436.9h.01M901.7 436.9h.01M902.6 436.9h.01M903.5 436.9h.01M904.4 436.9h.01M905.3 436.9h.01M906.2 436.9h.01M907.2 436.9h.01M908.1 436.9h.01M909.0 436.9h.01M909.9 436.9h.01M910.8 436.9h.01M911.7 436.9h.01M912.6 436.9h.01M913.6 436.9h.01M914.5 436.9h.01M915.4 436.9h.01M916.3 436.9h.01M917.2 436.9h.01M918.1 436.9h.01M919.0 436.9h.01M920.0 436.9h.01M920.9 436.9h.01M921.8 436.9h.01M922.7 436.9h.01M923.6 436.9h.01M924.5 436.9h.01M925.4 436.9h.01M926.3 436.9h.01M927.3 436.9h.01M928.2 436.9h.01M929.1 436.9h.01M930.0 436.9h.01M930.9 436.9h.01M931.8 436.9h.01M932.7 436.9h.01M933.7 436.9h.01M934.6 436.9h.01M935.5 436.9h.01M936.4 436.9h.01M937.3 436.9h.01M938.2 436.9h.01M939.1 436.9h.01M940.1 436.9h.01M941.0 436.9h.01M941.9 436.9h.01M942.8 436.9h.01M943.7 436.9h.01M944.6 436.9h.01M945.5 436.9h.01M946.5 436.9h.01M947.4 436.9h.01M948.3 436.9h.01M949.2 436.9h.01M950.1 436.9h.01M951.0 436.9h.01M951.9 436.9h.01M952.8 436.9h.01M953.8 436.9h.01M954.7 436.9h.01M955.6 436.9h.01M956.5 436.9h.01M957.4 436.9h.01M958.3 436.9h.01M959.2 436.9h.01M960.2 436.9h.01M961.1 436.9h.01M962.0 436.9h.01M962.9 436.9h.01M963.8 436.9h.01M964.7 436.9h.01M965.6 436.9h.01M966.6 436.9h.01M967.5 436.9h.01M968.4 436.9h.01M969.3 436.9h.01M970.2 436.9h.01M971.1 436.9h.01M972.0 436.9h.01M972.9 436.9h.01M973.9 436.9h.01M974.8 436.9h.01M975.7 436.9h.01M976.6 436.9h.01M977.5 436.9h.01M978.4 436.9h.01M979.3 436.9h.01M980.3 436.9h.01M981.2 436.9h.01M982.1 436.9h.01M983.0 436.9h.01M983.9 436.9h.01M984.8 436.9h.01M985.7 436.9h.01M986.7 436.9h.01M987.6 436.9h.01M988.5 436.9h.01M989.4 436.9h.01M990.3 436.9h.01M991.2 436.9h.01M992.1 436.9h.01M993.0 436.9h.01M994.0 436.9h.01M994.9 436.9h.01M995.8 436.9h.01M996.7 436.9h.01M997.6 436.9h.01M998.5 436.9h.01M999.4 436.9h.01M1000.4 436.9h.01M1001.3 436.9h.01M1002.2 436.9h.01M1003.1 436.9h.01" fill="none" stroke="#ff0000" stroke-width="7.3" stroke-linecap="round"/>
<text class="tk" transform="translate(72.9 449.2) scale(0.96 1)" text-anchor="end">0</text>
<text class="tk" transform="translate(72.9 401.1) scale(0.96 1)" text-anchor="end">0.1</text>
<text class="tk" transform="translate(72.9 353.0) scale(0.96 1)" text-anchor="end">0.2</text>
<text class="tk" transform="translate(72.9 304.9) scale(0.96 1)" text-anchor="end">0.3</text>
<text class="tk" transform="translate(72.9 256.8) scale(0.96 1)" text-anchor="end">0.4</text>
<text class="tk" transform="translate(72.9 208.6) scale(0.96 1)" text-anchor="end">0.5</text>
<text class="tk" transform="translate(72.9 160.5) scale(0.96 1)" text-anchor="end">0.6</text>
<text class="tk" transform="translate(72.9 112.4) scale(0.96 1)" text-anchor="end">0.7</text>
<text class="tk" transform="translate(72.9 64.3) scale(0.96 1)" text-anchor="end">0.8</text>
<text class="tk" transform="translate(72.9 16.2) scale(0.96 1)" text-anchor="end">0.9</text>
<text class="tk" transform="translate(90.0 481.4) scale(0.96 1)" text-anchor="middle">300</text>
<text class="tk" transform="translate(181.4 481.4) scale(0.96 1)" text-anchor="middle">310</text>
<text class="tk" transform="translate(272.7 481.4) scale(0.96 1)" text-anchor="middle">320</text>
<text class="tk" transform="translate(364.1 481.4) scale(0.96 1)" text-anchor="middle">330</text>
<text class="tk" transform="translate(455.5 481.4) scale(0.96 1)" text-anchor="middle">340</text>
<text class="tk" transform="translate(546.9 481.4) scale(0.96 1)" text-anchor="middle">350</text>
<text class="tk" transform="translate(638.2 481.4) scale(0.96 1)" text-anchor="middle">360</text>
<text class="tk" transform="translate(729.6 481.4) scale(0.96 1)" text-anchor="middle">370</text>
<text class="tk" transform="translate(821.0 481.4) scale(0.96 1)" text-anchor="middle">380</text>
<text class="tk" transform="translate(912.3 481.4) scale(0.96 1)" text-anchor="middle">390</text>
<text class="tk" transform="translate(1003.7 481.4) scale(0.96 1)" text-anchor="middle">400</text>
<text class="ti" style="font-size:28px" transform="translate(21 279.4) rotate(-90) scale(0.963 1)">Abs (a.u.)</text>
<text class="ti" style="font-size:27px" transform="translate(508.4 529) scale(1.1 1)">λ</text>
<text class="ti" style="font-size:27.5px" transform="translate(533.5 529) scale(0.96 1)" letter-spacing="-0.8">(nm)</text>
<circle cx="887.3" cy="51.9" r="3.6" fill="#000080"/>
<text class="ti" style="font-size:30px" transform="translate(903.1 61.2) scale(0.930 1)" letter-spacing="-0.4">t=0</text>
<circle cx="887.3" cy="92.5" r="3.6" fill="#008000"/>
<text class="ti" style="font-size:28.5px" transform="translate(903.1 101.5) scale(0.967 1)" letter-spacing="-0.8">t=7h</text>
<circle cx="887.3" cy="133.2" r="3.6" fill="#ff0000"/>
<text class="ti" style="font-size:26.5px" transform="translate(905.0 141.9) scale(0.973 1)" letter-spacing="-0.8">blank</text>
</svg>
</body></html>
